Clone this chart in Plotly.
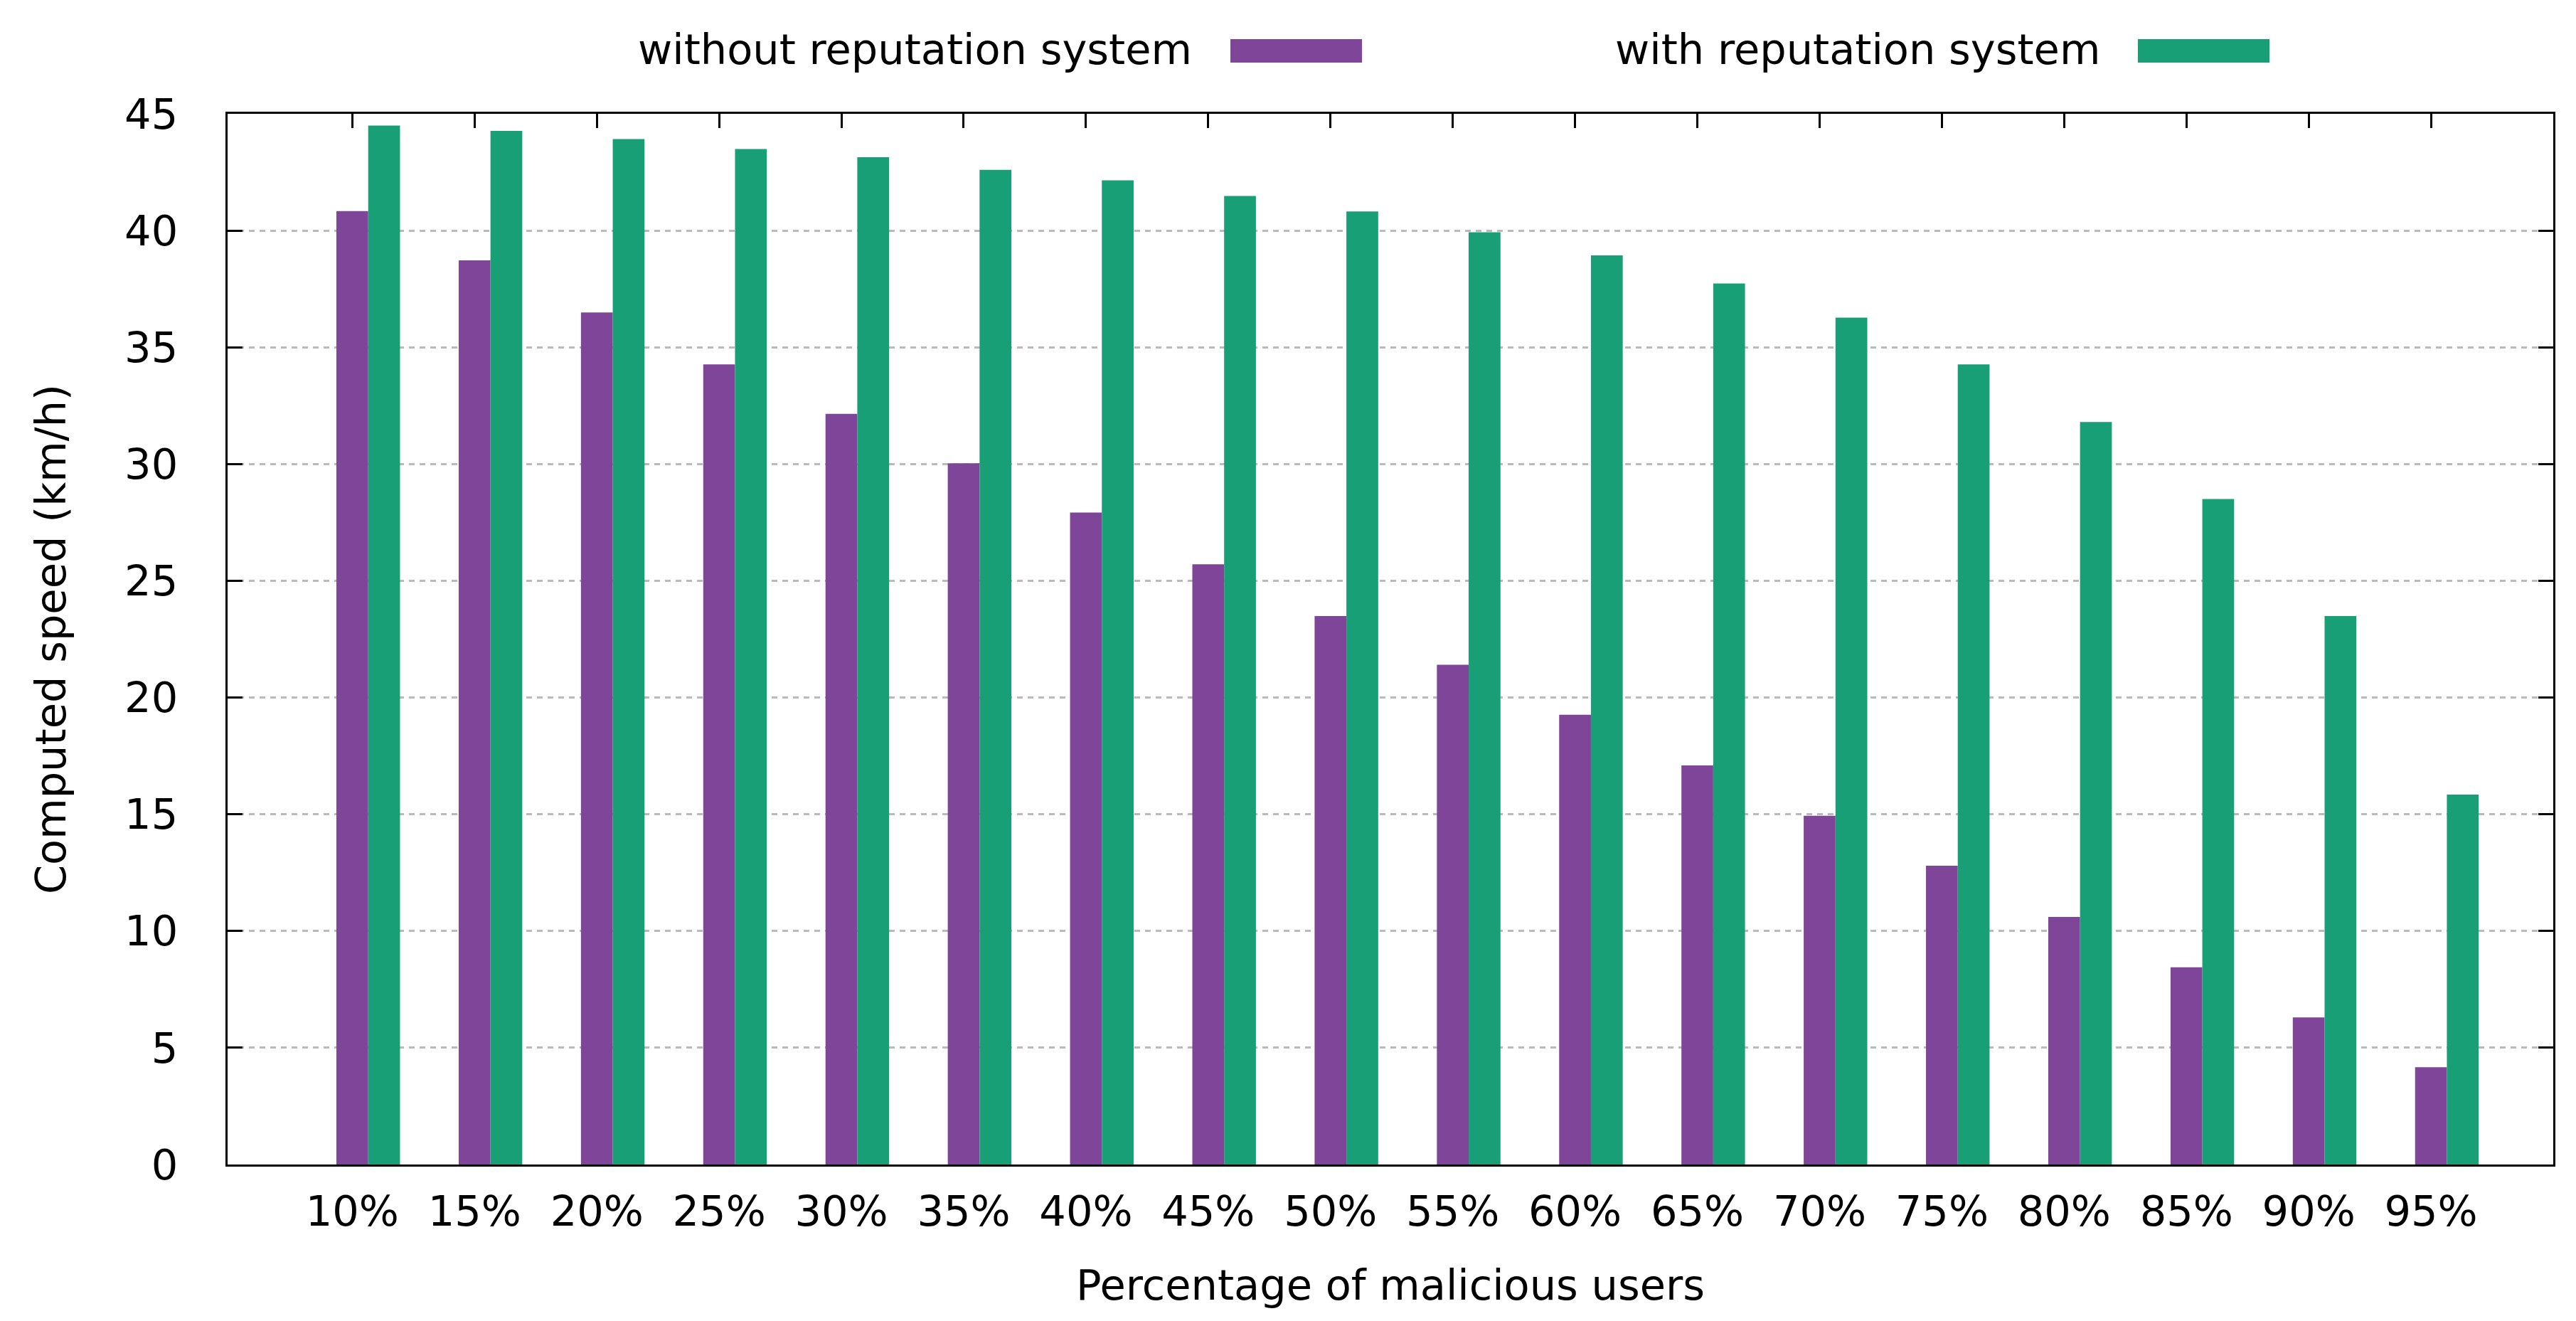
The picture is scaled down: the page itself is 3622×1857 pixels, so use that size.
import plotly.graph_objects as go

categories = ["10%", "15%", "20%", "25%", "30%", "35%", "40%", "45%", "50%",
              "55%", "60%", "65%", "70%", "75%", "80%", "85%", "90%", "95%"]
without_rep = [40.83, 38.72, 36.49, 34.27, 32.15, 30.03, 27.92, 25.71, 23.49,
               21.40, 19.26, 17.09, 14.94, 12.80, 10.60, 8.45, 6.30, 4.17]
with_rep = [44.50, 44.27, 43.92, 43.49, 43.14, 42.60, 42.15, 41.48, 40.82,
            39.93, 38.94, 37.73, 36.27, 34.27, 31.80, 28.50, 23.49, 15.84]
y_ticks = [0, 5, 10, 15, 20, 25, 30, 35, 40, 45]

series_names = ["without reputation system", "with reputation system"]
colors = ["#7f4598", "#189f76"]

FONT = "DejaVu Sans"
FS = 59

fig = go.Figure()
fig.add_trace(go.Bar(x=categories, y=without_rep, name=series_names[0],
                     marker=dict(color=colors[0], line=dict(width=0)),
                     width=0.26, offset=-0.13, xaxis="x", yaxis="y"))
fig.add_trace(go.Bar(x=categories, y=with_rep, name=series_names[1],
                     marker=dict(color=colors[1], line=dict(width=0)),
                     width=0.26, offset=0.13, xaxis="x2", yaxis="y"))

xrange = [-1.02, 18.0]
fig.update_layout(
    width=3622, height=1857,
    margin=dict(l=312, r=40, t=152, b=228),
    paper_bgcolor="white", plot_bgcolor="white",
    barmode="overlay",
    showlegend=False,
    font=dict(family=FONT, size=FS, color="black"),
    xaxis=dict(type="category", categoryarray=categories, range=xrange,
               showline=True, linecolor="black", linewidth=3, mirror=True,
               ticks="", showgrid=False, zeroline=False,
               ticklabelstandoff=12,
               tickfont=dict(family=FONT, size=FS, color="black"),
               title=dict(text="Percentage of malicious users", standoff=50,
                          font=dict(family=FONT, size=FS, color="black"))),
    xaxis2=dict(type="category", categoryarray=categories, range=xrange,
                overlaying="x", side="top", matches="x",
                ticks="inside", ticklen=20, tickwidth=3, tickcolor="black",
                showticklabels=False, showline=False, showgrid=False,
                zeroline=False),
    yaxis=dict(range=[0, 45], tickvals=y_ticks,
               showline=True, linecolor="black", linewidth=3, mirror="ticks",
               ticks="inside", ticklen=21, tickwidth=3, tickcolor="black",
               showgrid=True, gridcolor="#bababa", gridwidth=3,
               griddash="8px,7px", zeroline=False,
               ticklabelstandoff=55,
               tickfont=dict(family=FONT, size=FS, color="black"),
               title=dict(text="Computed speed (km/h)", standoff=64,
                          font=dict(family=FONT, size=FS, color="black"))),
)

# legend (text left of sample, gnuplot style)
legend_text_x = [0.4153, 0.8058]
legend_sw_x = [(0.4312, 0.4878), (0.8214, 0.8780)]
for i in range(2):
    fig.add_annotation(xref="paper", yref="paper", x=legend_text_x[i], y=1.061,
                       text=series_names[i], showarrow=False,
                       xanchor="right", yanchor="middle",
                       font=dict(family=FONT, size=FS, color="black"))
    fig.add_shape(type="rect", xref="paper", yref="paper",
                  x0=legend_sw_x[i][0], x1=legend_sw_x[i][1],
                  y0=1.0488, y1=1.0711,
                  fillcolor=colors[i], line=dict(width=0))

fig.write_html("out.html")
